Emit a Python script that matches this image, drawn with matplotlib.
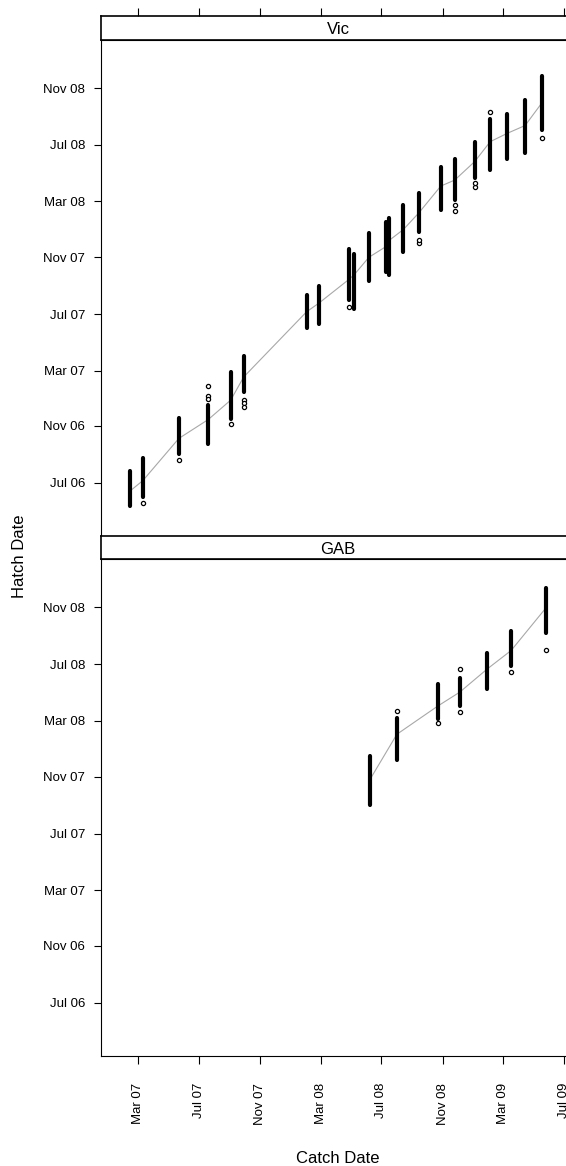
import numpy as np
import matplotlib
matplotlib.use('Agg')
import matplotlib.pyplot as plt

plt.rcParams['font.family'] = ['Liberation Sans', 'DejaVu Sans']

# Vic: one entry per catch date
vic_catch = ['2007-02-14', '2007-03-11', '2007-05-22', '2007-07-20', '2007-09-03', '2007-09-29',
             '2008-02-02', '2008-02-27', '2008-04-28', '2008-05-08', '2008-06-06', '2008-07-10',
             '2008-07-16', '2008-08-14', '2008-09-14', '2008-10-28', '2008-11-25', '2009-01-04',
             '2009-02-04', '2009-03-10', '2009-04-15', '2009-05-18']
vic_hi = ['2006-07-27', '2006-08-24', '2006-11-18', '2006-12-16', '2007-02-26', '2007-04-02',
          '2007-08-11', '2007-08-31', '2007-11-19', '2007-11-08', '2007-12-23', '2008-01-17',
          '2008-01-24', '2008-02-22', '2008-03-18', '2008-05-15', '2008-06-01', '2008-07-08',
          '2008-08-27', '2008-09-06', '2008-10-06', '2008-11-27']
vic_lo = ['2006-05-12', '2006-06-01', '2006-09-02', '2006-09-22', '2006-11-16', '2007-01-14',
          '2007-06-02', '2007-06-09', '2007-07-31', '2007-07-13', '2007-09-11', '2007-10-01',
          '2007-09-24', '2007-11-13', '2007-12-26', '2008-02-12', '2008-03-04', '2008-04-20',
          '2008-05-08', '2008-06-01', '2008-06-13', '2008-08-02']
vic_smooth = ['2006-06-14', '2006-07-06', '2006-10-05', '2006-11-15', '2006-12-27', '2007-02-15',
              '2007-07-06', '2007-07-25', '2007-09-15', '2007-09-25', '2007-11-01', '2007-11-24',
              '2007-12-07', '2007-12-31', '2008-02-05', '2008-04-03', '2008-04-16', '2008-05-26',
              '2008-07-08', '2008-07-26', '2008-08-12', '2008-09-29']
# stray points away from the dense part of a cluster
vic_stray_catch = ['2007-03-11', '2007-05-22', '2007-07-20', '2007-07-20', '2007-07-20',
                   '2007-09-03', '2007-09-29', '2007-09-29', '2007-09-29', '2008-04-28',
                   '2008-09-14', '2008-09-14', '2008-11-25', '2008-11-25', '2009-01-04',
                   '2009-01-04', '2009-02-04', '2009-05-18']
vic_stray_hatch = ['2006-05-19', '2006-08-19', '2007-01-26', '2007-01-04', '2006-12-29',
                   '2006-11-05', '2006-12-28', '2006-12-20', '2006-12-11', '2007-07-17',
                   '2007-12-01', '2007-12-08', '2008-02-09', '2008-02-21', '2008-04-02',
                   '2008-04-10', '2008-09-11', '2008-07-16']

# GAB
gab_catch = ['2008-06-09', '2008-08-01', '2008-10-22', '2008-12-05', '2009-01-29', '2009-03-18',
             '2009-05-26']
gab_hi = ['2007-12-15', '2008-03-08', '2008-05-19', '2008-06-02', '2008-07-25', '2008-09-11',
          '2008-12-12']
gab_lo = ['2007-09-02', '2007-12-08', '2008-03-04', '2008-04-03', '2008-05-08', '2008-06-27',
          '2008-09-07']
gab_smooth = ['2007-10-28', '2008-02-01', '2008-04-02', '2008-05-02', '2008-06-21', '2008-07-31',
              '2008-10-30']
gab_stray_catch = ['2008-08-01', '2008-10-22', '2008-12-05', '2008-12-05', '2009-03-18',
                   '2009-05-26']
gab_stray_hatch = ['2008-03-22', '2008-02-26', '2008-06-22', '2008-03-20', '2008-06-15',
                   '2008-08-01']

x_ticks = ['2007-03-01', '2007-07-01', '2007-11-01', '2008-03-01', '2008-07-01', '2008-11-01',
           '2009-03-01', '2009-07-01']
x_labels = ['Mar 07', 'Jul 07', 'Nov 07', 'Mar 08', 'Jul 08', 'Nov 08', 'Mar 09', 'Jul 09']
y_ticks = ['2006-07-01', '2006-11-01', '2007-03-01', '2007-07-01', '2007-11-01', '2008-03-01',
           '2008-07-01', '2008-11-01']
y_labels = ['Jul 06', 'Nov 06', 'Mar 07', 'Jul 07', 'Nov 07', 'Mar 08', 'Jul 08', 'Nov 08']

D = lambda s: np.array(s, dtype='datetime64[D]')
xlim = (D('2006-12-17'), D('2009-07-24'))
ylim = (D('2006-03-08'), D('2009-02-13'))

W, H = 566, 1166
fig = plt.figure(figsize=(W / 100, H / 100), dpi=100)

def rect(top, bottom, left=101, right=575):
    return [left / W, (H - bottom) / H, (right - left) / W, (bottom - top) / H]

ax_top = fig.add_axes(rect(40, 536))
ax_bot = fig.add_axes(rect(559.3, 1056))
st_top = fig.add_axes(rect(15.7, 40))
st_bot = fig.add_axes(rect(536, 559.3))

panels = [
    (ax_top, vic_catch, vic_lo, vic_hi, vic_smooth, vic_stray_catch, vic_stray_hatch),
    (ax_bot, gab_catch, gab_lo, gab_hi, gab_smooth, gab_stray_catch, gab_stray_hatch),
]
for ax, c, lo, hi, sm, sc, sh in panels:
    c, lo, hi = D(c), D(lo), D(hi)
    ax.plot(c, D(sm), color='#a8a8a8', lw=0.8, zorder=1)
    ax.vlines(c, lo, hi, color='black', lw=3.0, capstyle='round', zorder=2)
    ax.plot(D(sc), D(sh), 'o', ms=3.0, mfc='white', mec='black', mew=0.9, zorder=3)
    ax.set_xlim(*xlim)
    ax.set_ylim(*ylim)
    ax.set_yticks(D(y_ticks))
    ax.set_yticklabels(y_labels, fontsize=9.5)
    ax.tick_params(axis='y', length=5.3, width=0.8, pad=6.3)
    ax.spines['right'].set_visible(False)

ax_top.set_xticks([])
ax_bot.set_xticks(D(x_ticks))
ax_bot.set_xticklabels(x_labels, fontsize=9.5, rotation=90, va='top')
ax_bot.tick_params(axis='x', length=6, width=0.8, pad=13.5)

for st, name in [(st_top, 'Vic'), (st_bot, 'GAB')]:
    st.set_xlim(*xlim)
    st.set_yticks([])
    st.spines['right'].set_visible(False)
    st.text(0.5, 0.42, name, transform=st.transAxes, ha='center', va='center', fontsize=12)
    for sp in st.spines.values():
        sp.set_linewidth(1.2)
st_bot.set_xticks([])
st_top.set_xticks(D(x_ticks))
st_top.tick_params(axis='x', top=True, bottom=False, labeltop=False, labelbottom=False,
                   length=6, width=0.8)

fig.text(20 / W, (H - 556) / H, 'Hatch Date', rotation=90, ha='center', va='center', fontsize=12)
fig.text(338 / W, (H - 1163) / H, 'Catch Date', ha='center', va='baseline', fontsize=12)

fig.savefig('out.png', dpi=100)
